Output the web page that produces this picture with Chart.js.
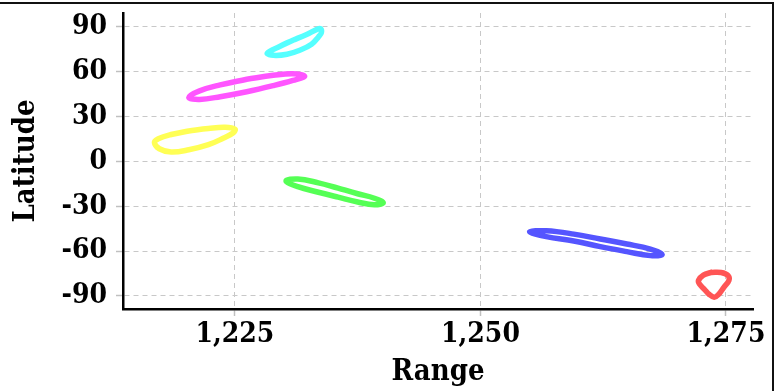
<!DOCTYPE html>
<html>
<head>
<meta charset="utf-8">
<script src="https://cdn.jsdelivr.net/npm/chart.js@4.4.1/dist/chart.umd.min.js"></script>
<style>
  html, body { margin: 0; padding: 0; background: #fff; overflow: hidden; }
  #wrap { position: relative; width: 783px; height: 391px; }
  #frame { position: absolute; left: -10px; top: 2px; width: 784px; height: 500px; box-sizing: border-box; border: 2px solid #111; }
  canvas { position: absolute; left: 0; top: 0; }
</style>
</head>
<body>
<div id="wrap">
  <div id="frame"></div>
  <canvas id="my_graph" width="783" height="391"></canvas>
</div>
<script>
// tick labels
const xTicks = [1225, 1250, 1275];
const yTicks = [-90, -60, -30, 0, 30, 60, 90];

// each loop: range values and latitude values
// (each starts and ends half way along one side so the closing join sits on a flat part)
const cyanRange = [1230.9, 1232.3, 1233.3, 1233.7, 1233.8, 1233.5, 1232.8, 1231.6, 1230.3, 1228.9, 1228.3, 1229.6, 1230.9];
const cyanLat   = [81.1, 84.9, 88.2, 88.8, 86.2, 83.3, 78.4, 74.4, 71.7, 71.0, 72.5, 77.1, 81.1];

const magentaRange = [1226.2, 1228.9, 1230.9, 1232.1, 1230.9, 1228.9, 1226.2, 1223.5, 1221.4, 1220.3, 1221.4, 1223.5, 1226.2];
const magentaLat   = [55.0, 57.6, 58.7, 57.0, 54.2, 50.7, 46.6, 43.3, 41.5, 42.8, 47.2, 51.2, 55.0];

const yellowRange = [1220.3, 1222.3, 1224.0, 1225.0, 1224.8, 1223.8, 1222.3, 1220.3, 1218.5, 1217.3, 1216.8, 1217.2, 1218.5, 1220.3];
const yellowLat   = [20.4, 22.0, 22.8, 21.5, 19.0, 15.5, 11.2, 7.8, 6.3, 8.5, 12.7, 15.2, 18.0, 20.4];

const greenRange = [1235.5, 1237.5, 1239.2, 1240.1, 1239.2, 1237.5, 1235.5, 1233.5, 1231.4, 1230.2, 1231.4, 1233.5, 1235.5];
const greenLat   = [-17.8, -21.6, -24.6, -27.6, -29.0, -27.1, -23.9, -20.6, -16.9, -13.1, -11.7, -14.3, -17.8];

const blueRange = [1262.2, 1264.9, 1267.3, 1268.5, 1267.3, 1264.9, 1262.2, 1259.5, 1256.7, 1255.0, 1256.7, 1259.5, 1262.2];
const blueLat   = [-51.9, -55.2, -58.6, -62.2, -63.0, -60.3, -57.0, -53.2, -50.3, -47.1, -46.4, -48.6, -51.9];

const redRange = [1273.5, 1274.5, 1275.2, 1275.3, 1274.8, 1274.2, 1273.8, 1273.3, 1272.8, 1272.3, 1272.2, 1272.7, 1273.5];
const redLat   = [-74.2, -74.3, -76.2, -79.5, -84.0, -89.3, -90.8, -89.0, -85.5, -82.0, -79.5, -76.0, -74.2];

const loops = [
  { range: cyanRange, lat: cyanLat, color: '#55ffff' },
  { range: magentaRange, lat: magentaLat, color: '#ff55ff' },
  { range: yellowRange, lat: yellowLat, color: '#ffff55' },
  { range: greenRange, lat: greenLat, color: '#55ff55' },
  { range: blueRange, lat: blueLat, color: '#5555ff' },
  { range: redRange, lat: redLat, color: '#ff5555' }
];

const datasets = loops.map(l => ({
  data: l.range.map((x, i) => ({ x: x, y: l.lat[i] })),
  showLine: true,
  borderColor: l.color,
  backgroundColor: l.color,
  borderWidth: 5.5,
  pointRadius: 0,
  tension: 0.4,
  borderJoinStyle: 'round',
  borderCapStyle: 'round'
}));

const fam = '"DejaVu Serif Condensed", "DejaVu Serif", serif';
const tickFont = { family: fam, weight: 'bold', size: 28 };
const titleFont = { family: fam, weight: 'bold', size: 29 };

function noPad(s) {
  s.paddingTop = 0;
  s.paddingBottom = 0;
  s.paddingLeft = 0;
  s.paddingRight = 0;
}

const gridOpts = {
  color: '#c8c8c8',
  lineWidth: 1,
  tickColor: '#c0c0c0',
  tickLength: 7,
  tickWidth: 1.5
};

const ctx = document.getElementById('my_graph');

new Chart(ctx, {
  type: 'scatter',
  data: { datasets },
  options: {
    responsive: false,
    animation: false,
    layout: { padding: { top: 13, right: 30, left: 0, bottom: 0 } },
    plugins: {
      legend: { display: false },
      tooltip: { enabled: false }
    },
    scales: {
      x: {
        type: 'linear',
        min: 1213.6,
        max: 1277.75,
        afterBuildTicks: s => { s.ticks = xTicks.map(v => ({ value: v })); },
        afterFit: s => { s.height = 82; noPad(s); },
        ticks: {
          font: tickFont,
          color: '#000',
          padding: 2,
          maxRotation: 0,
          autoSkip: false,
          callback: v => v.toLocaleString('en-US')
        },
        grid: gridOpts,
        border: { color: '#000', width: 2.5, dash: [5, 4] },
        title: {
          display: true,
          text: 'Range',
          font: titleFont,
          color: '#000',
          padding: { top: 0, bottom: 1 }
        }
      },
      y: {
        type: 'linear',
        min: -98.7,
        max: 99.3,
        afterBuildTicks: s => { s.ticks = yTicks.map(v => ({ value: v })); },
        afterFit: s => { s.width = 123; noPad(s); },
        ticks: {
          font: tickFont,
          color: '#000',
          padding: 9
        },
        grid: gridOpts,
        border: { color: '#000', width: 2.5, dash: [5, 4] },
        title: {
          display: true,
          text: 'Latitude',
          font: titleFont,
          color: '#000',
          padding: { top: 9, bottom: 0 }
        }
      }
    }
  }
});
</script>
</body>
</html>
